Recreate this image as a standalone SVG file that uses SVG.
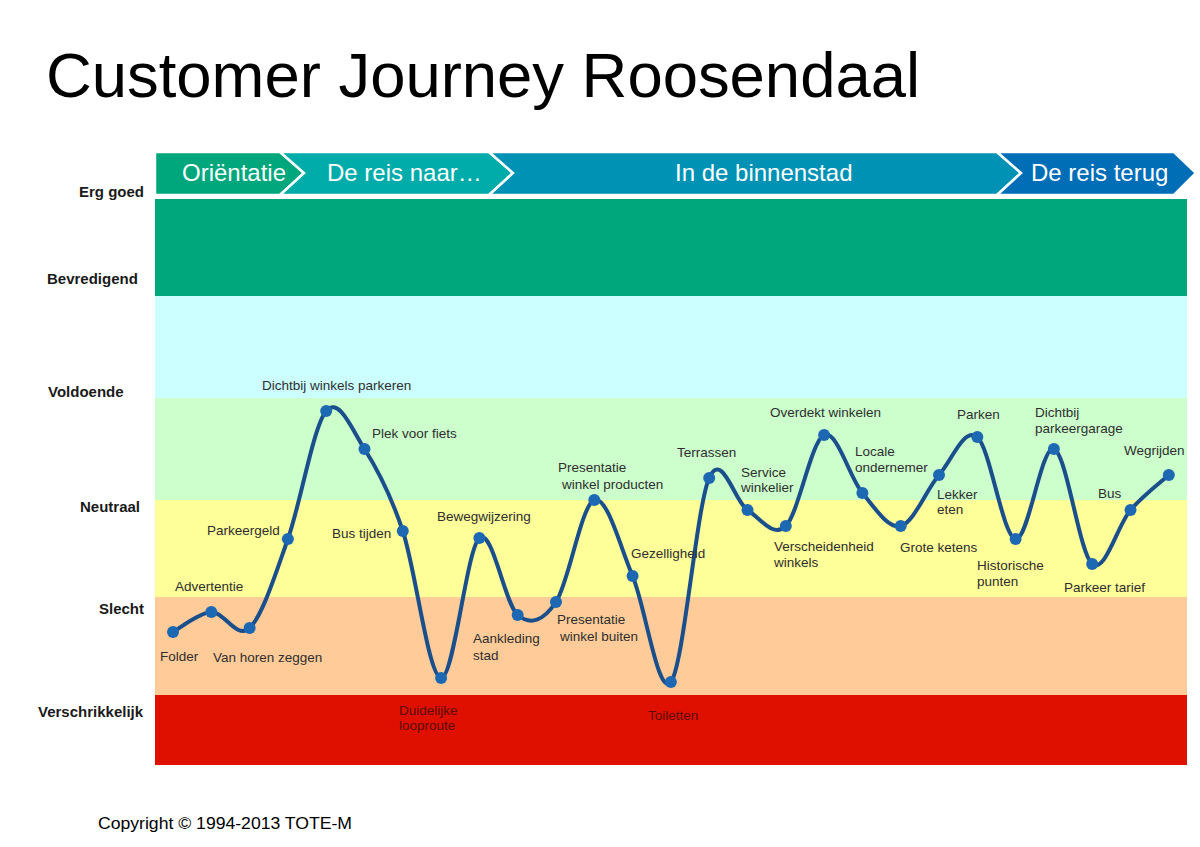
<svg xmlns="http://www.w3.org/2000/svg" width="1200" height="847" viewBox="0 0 1200 847">
<style>
.title{font-family:"Liberation Sans",Arial,sans-serif;font-size:63px;fill:#000}
.axis{font-family:"Liberation Sans",Arial,sans-serif;font-size:15px;font-weight:bold;fill:#1a1a1a}
.phase{font-family:"Liberation Sans",Arial,sans-serif;font-size:24px;fill:#fff}
.seg{stroke:#fff;stroke-width:2.5;stroke-linejoin:miter}
.lbl{font-family:"Liberation Sans",Arial,sans-serif;font-size:13.5px;fill:#2e2e2e}
.lblr{font-family:"Liberation Sans",Arial,sans-serif;font-size:13.5px;fill:#5a0c00}
.dot{fill:#1d68b3}
.curve{fill:none;stroke:#1a4f8c;stroke-width:4;stroke-linecap:round}
.copy{font-family:"Liberation Sans",Arial,sans-serif;font-size:16px;fill:#000}
</style>
<rect width="1200" height="847" fill="#fff"/>
<text class="title" x="46" y="97" textLength="874" lengthAdjust="spacingAndGlyphs">Customer Journey Roosendaal</text>

<g id="bands">
<rect x="155" y="199" width="1032" height="97" fill="#00a67c"/>
<rect x="155" y="296" width="1032" height="102" fill="#ccffff"/>
<rect x="155" y="398" width="1032" height="102" fill="#ccffcc"/>
<rect x="155" y="500" width="1032" height="97" fill="#ffff99"/>
<rect x="155" y="597" width="1032" height="98" fill="#ffcc99"/>
<rect x="155" y="695" width="1032" height="70" fill="#e01000"/>
</g>

<g id="phases">
<g id="phase-orientatie">
<polygon class="seg" points="155,152 280,152 304,173 280,195 155,195" fill="#00a67c"/>
<text class="phase" x="182" y="181">Oriëntatie</text>
</g>
<g id="phase-reis-naar">
<polygon class="seg" points="280,152 489,152 513,173 489,195 280,195 304,173" fill="#00acaa"/>
<text class="phase" x="327" y="181">De reis naar…</text>
</g>
<g id="phase-binnenstad">
<polygon class="seg" points="489,152 997,152 1021,173 997,195 489,195 513,173" fill="#0092b5"/>
<text class="phase" x="675" y="181">In de binnenstad</text>
</g>
<g id="phase-reis-terug">
<polygon class="seg" points="997,152 1174,152 1196,173 1174,195 997,195 1021,173" fill="#006db7"/>
<text class="phase" x="1031" y="181">De reis terug</text>
</g>
</g>

<g id="axis-labels">
<text class="axis" x="79" y="197">Erg goed</text>
<text class="axis" x="47" y="284">Bevredigend</text>
<text class="axis" x="48" y="397">Voldoende</text>
<text class="axis" x="80" y="512">Neutraal</text>
<text class="axis" x="99" y="614">Slecht</text>
<text class="axis" x="38" y="717">Verschrikkelijk</text>
</g>

<g id="connectors">
<path class="curve" d="M173,632 C179.4,628.7 198.5,612.7 211.3,612 C224.1,611.3 236.8,640.2 249.6,628 C262.4,615.8 275.1,575.2 287.9,539 C300.7,502.8 313.4,426 326.2,411 C339,396 351.7,429 364.5,449 C377.3,469 390,492.8 402.8,531 C415.6,569.2 428.3,676.8 441.1,678 C453.9,679.2 466.6,548.5 479.4,538 C492.2,527.5 504.9,604.3 517.7,615 C530.5,625.7 543.2,621.2 556,602 C568.8,582.8 581.5,504.3 594.3,500 C607.1,495.7 619.8,545.7 632.6,576 C645.4,606.3 658.1,698.3 670.9,682 C683.7,665.7 696.4,506.7 709.2,478 C722,449.3 734.7,502 747.5,510 C760.3,518 773,538.5 785.8,526 C798.6,513.5 811.3,440.5 824.1,435 C836.9,429.5 849.6,477.8 862.4,493 C875.2,508.2 887.9,529 900.7,526 C913.5,523 926.2,489.8 939,475 C951.8,460.2 964.5,426.3 977.3,437 C990.1,447.7 1002.8,537 1015.6,539 C1028.4,541 1041.1,444.8 1053.9,449 C1066.7,453.2 1079.4,553.8 1092.2,564 C1105,574.2 1117.7,524.8 1130.5,510 C1143.3,495.2 1162.4,480.8 1168.8,475"/>
</g>

<g id="n-folder"><circle class="dot" cx="173" cy="632" r="6"/><text class="lbl" x="160" y="661">Folder</text></g>
<g id="n-advertentie"><circle class="dot" cx="211.3" cy="612" r="6"/><text class="lbl" x="175" y="591">Advertentie</text></g>
<g id="n-van-horen-zeggen"><circle class="dot" cx="249.6" cy="628" r="6"/><text class="lbl" x="213" y="662">Van horen zeggen</text></g>
<g id="n-parkeergeld"><circle class="dot" cx="287.9" cy="539" r="6"/><text class="lbl" x="207" y="535">Parkeergeld</text></g>
<g id="n-dichtbij-winkels"><circle class="dot" cx="326.2" cy="411" r="6"/><text class="lbl" x="262" y="390">Dichtbij winkels parkeren</text></g>
<g id="n-plek-fiets"><circle class="dot" cx="364.5" cy="449" r="6"/><text class="lbl" x="372" y="438">Plek voor fiets</text></g>
<g id="n-bus-tijden"><circle class="dot" cx="402.8" cy="531" r="6"/><text class="lbl" x="332" y="538">Bus tijden</text></g>
<g id="n-duidelijke-looproute"><circle class="dot" cx="441.1" cy="678" r="6"/><text class="lblr" x="399" y="715">Duidelijke</text><text class="lblr" x="399" y="730">looproute</text></g>
<g id="n-bewegwijzering"><circle class="dot" cx="479.4" cy="538" r="6"/><text class="lbl" x="437" y="521">Bewegwijzering</text></g>
<g id="n-aankleding-stad"><circle class="dot" cx="517.7" cy="615" r="6"/><text class="lbl" x="473" y="643">Aankleding</text><text class="lbl" x="473" y="660">stad</text></g>
<g id="n-presentatie-buiten"><circle class="dot" cx="556" cy="602" r="6"/><text class="lbl" x="557" y="624">Presentatie</text><text class="lbl" x="560" y="641">winkel buiten</text></g>
<g id="n-presentatie-producten"><circle class="dot" cx="594.3" cy="500" r="6"/><text class="lbl" x="558" y="472">Presentatie</text><text class="lbl" x="562" y="489">winkel producten</text></g>
<g id="n-gezelligheid"><circle class="dot" cx="632.6" cy="576" r="6"/><text class="lbl" x="631" y="558">Gezelligheid</text></g>
<g id="n-toiletten"><circle class="dot" cx="670.9" cy="682" r="6"/><text class="lblr" x="648" y="720">Toiletten</text></g>
<g id="n-terrassen"><circle class="dot" cx="709.2" cy="478" r="6"/><text class="lbl" x="677" y="457">Terrassen</text></g>
<g id="n-service-winkelier"><circle class="dot" cx="747.5" cy="510" r="6"/><text class="lbl" x="741" y="477">Service</text><text class="lbl" x="741" y="492">winkelier</text></g>
<g id="n-verscheidenheid"><circle class="dot" cx="785.8" cy="526" r="6"/><text class="lbl" x="774" y="551">Verscheidenheid</text><text class="lbl" x="774" y="567">winkels</text></g>
<g id="n-overdekt"><circle class="dot" cx="824.1" cy="435" r="6"/><text class="lbl" x="770" y="417">Overdekt winkelen</text></g>
<g id="n-locale"><circle class="dot" cx="862.4" cy="493" r="6"/><text class="lbl" x="855" y="456">Locale</text><text class="lbl" x="855" y="472">ondernemer</text></g>
<g id="n-grote-ketens"><circle class="dot" cx="900.7" cy="526" r="6"/><text class="lbl" x="900" y="552">Grote ketens</text></g>
<g id="n-lekker-eten"><circle class="dot" cx="939" cy="475" r="6"/><text class="lbl" x="937" y="499">Lekker</text><text class="lbl" x="937" y="514">eten</text></g>
<g id="n-parken"><circle class="dot" cx="977.3" cy="437" r="6"/><text class="lbl" x="957" y="419">Parken</text></g>
<g id="n-historische"><circle class="dot" cx="1015.6" cy="539" r="6"/><text class="lbl" x="977" y="570">Historische</text><text class="lbl" x="977" y="586">punten</text></g>
<g id="n-dichtbij-parkeergarage"><circle class="dot" cx="1053.9" cy="449" r="6"/><text class="lbl" x="1035" y="417">Dichtbij</text><text class="lbl" x="1035" y="433">parkeergarage</text></g>
<g id="n-parkeer-tarief"><circle class="dot" cx="1092.2" cy="564" r="6"/><text class="lbl" x="1064" y="592">Parkeer tarief</text></g>
<g id="n-bus"><circle class="dot" cx="1130.5" cy="510" r="6"/><text class="lbl" x="1098" y="498">Bus</text></g>
<g id="n-wegrijden"><circle class="dot" cx="1168.8" cy="475" r="6"/><text class="lbl" x="1124" y="455">Wegrijden</text></g>

<text class="copy" x="98" y="829" textLength="254" lengthAdjust="spacingAndGlyphs">Copyright © 1994-2013 TOTE-M</text>
</svg>
